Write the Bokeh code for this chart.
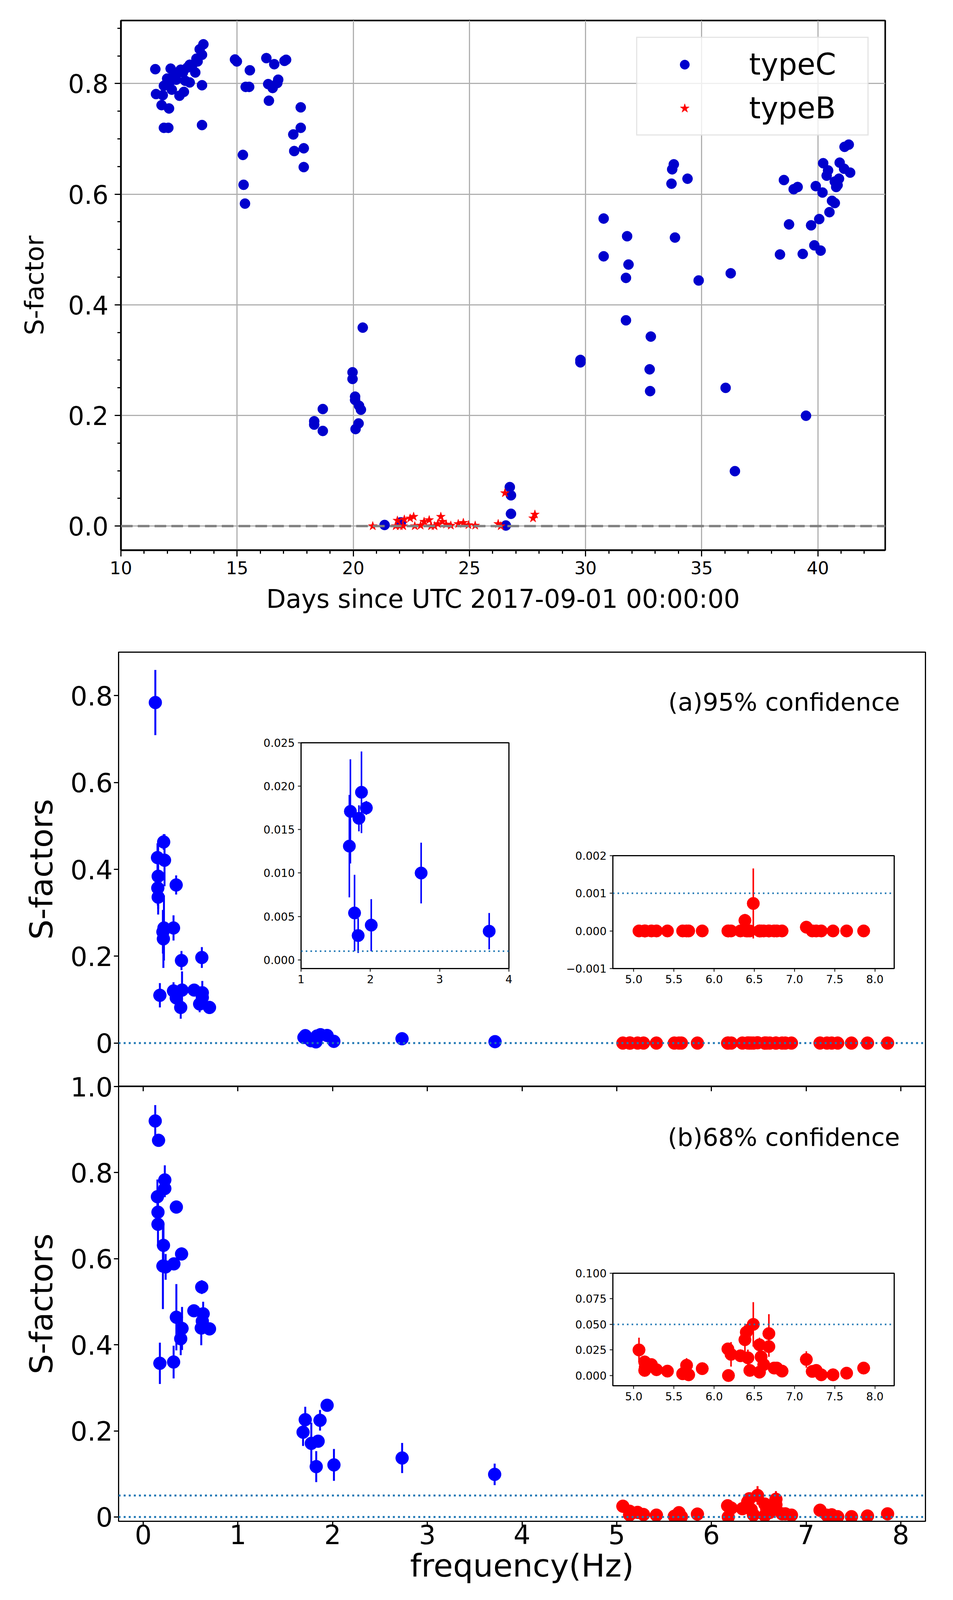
from bokeh.plotting import figure
from bokeh.layouts import column
from bokeh.models import Span, Label, FixedTicker, LinearAxis
from bokeh.embed import file_html
from bokeh.resources import INLINE

FONT = "DejaVu Sans"

# ---- top chart: S-factor versus days ----
days_typeC = [11.48, 12.14, 12.57, 12.96, 13.25, 13.39, 13.55, 13.49, 13.20, 11.99, 12.38, 12.77, 12.96,
              13.49, 11.51, 11.80, 12.19, 12.52, 12.71, 11.75, 12.07, 11.85, 12.04, 13.49, 11.85, 12.10,
              12.28, 12.67, 12.86, 13.06, 13.30,
              14.91, 14.99, 15.55, 15.37, 15.52, 15.25, 15.28, 15.34,
              16.26, 16.60, 17.04, 17.11, 16.77, 16.34, 16.53, 16.73, 16.37, 17.74, 17.74, 17.42, 17.87,
              17.46, 17.87,
              18.32, 18.32, 18.69, 18.69, 19.97, 19.97, 20.08, 20.08, 20.25, 20.33, 20.23, 20.10, 20.41,
              21.35, 22.05, 26.57, 26.74, 26.79, 26.79,
              29.78, 29.78, 31.74, 31.74, 30.78, 30.78, 31.79, 31.85, 33.80, 33.73, 34.39, 33.70, 33.85,
              34.87, 36.25, 32.81, 32.76, 32.78, 36.03, 36.43, 39.49,
              38.37, 38.54, 38.76, 38.96, 39.13, 39.35, 39.71, 39.85, 40.12, 40.06, 39.91, 40.20, 40.23,
              40.44, 40.38, 40.94, 41.13, 41.39, 40.73, 40.91, 40.85, 40.79, 40.61, 40.73, 40.50, 41.15,
              41.33]
sf_typeC = [0.826, 0.827, 0.825, 0.834, 0.845, 0.862, 0.871, 0.852, 0.820, 0.809, 0.807, 0.805, 0.802,
            0.797, 0.781, 0.779, 0.789, 0.778, 0.785, 0.761, 0.755, 0.720, 0.720, 0.725, 0.796, 0.803,
            0.815, 0.820, 0.829, 0.832, 0.840,
            0.8435, 0.840, 0.824, 0.794, 0.794, 0.671, 0.617, 0.583,
            0.846, 0.835, 0.841, 0.843, 0.807, 0.799, 0.792, 0.801, 0.769, 0.757, 0.720, 0.708, 0.683,
            0.678, 0.649,
            0.1895, 0.1834, 0.2116, 0.172, 0.278, 0.266, 0.234, 0.228, 0.2176, 0.2104, 0.1855, 0.1754,
            0.3588,
            0.002, 0.0068, 0.001, 0.0705, 0.0556, 0.0222,
            0.3004, 0.296, 0.372, 0.4487, 0.556, 0.4877, 0.524, 0.4728, 0.654, 0.645, 0.628, 0.619,
            0.5216, 0.444, 0.457, 0.3426, 0.2834, 0.244, 0.2499, 0.0993, 0.1995,
            0.491, 0.6256, 0.5454, 0.609, 0.613, 0.492, 0.5437, 0.5075, 0.498, 0.555, 0.6146, 0.603,
            0.656, 0.643, 0.6335, 0.657, 0.646, 0.639, 0.6228, 0.628, 0.6164, 0.613, 0.588, 0.584,
            0.5675, 0.6856, 0.6896]
days_typeB = [20.84, 21.83, 21.90, 22.00, 22.15, 22.20, 22.45, 22.60, 22.65, 22.90, 23.05, 23.27, 23.35,
              23.50, 23.64, 23.77, 23.84, 24.00, 24.20, 24.52, 24.74, 24.96, 25.25, 26.24, 26.35, 26.53,
              27.74, 27.82]
sf_typeB = [0.0, 0.0, 0.010, 0.0, 0.0, 0.012, 0.014, 0.017, 0.0, 0.001, 0.008, 0.011, 0.0,
            0.0, 0.004, 0.017, 0.008, 0.003, 0.001, 0.004, 0.006, 0.002, 0.001, 0.004, 0.0, 0.0597,
            0.0142, 0.021]
top_xticks = [10, 15, 20, 25, 30, 35, 40]
top_yticks = [0.0, 0.2, 0.4, 0.6, 0.8]
top_ylabels = ["0.0", "0.2", "0.4", "0.6", "0.8"]

# ---- bottom chart: S-factors versus frequency ----
freq_a_blue = [0.128, 0.151, 0.154, 0.158, 0.158, 0.176, 0.208, 0.213, 0.216, 0.219, 0.225, 0.320, 0.320,
               0.348, 0.349, 0.396, 0.404, 0.410, 0.538, 0.596, 0.619, 0.624, 0.624, 0.700,
               1.697, 1.712, 1.772, 1.824, 1.835, 1.872, 1.942, 2.013, 2.733, 3.715]
s_a_blue = [0.784, 0.427, 0.357, 0.384, 0.336, 0.110, 0.256, 0.240, 0.463, 0.265, 0.421, 0.265, 0.120,
            0.364, 0.104, 0.082, 0.190, 0.122, 0.122, 0.090, 0.197, 0.116, 0.105, 0.082,
            0.0131, 0.0171, 0.0054, 0.0028, 0.0163, 0.0193, 0.0175, 0.0040, 0.0100, 0.0033]
err_a_blue = [0.075, 0.033, 0.040, 0.075, 0.040, 0.028, 0.050, 0.067, 0.018, 0.075, 0.060, 0.029, 0.020,
              0.022, 0.012, 0.026, 0.022, 0.043, 0.004, 0.019, 0.024, 0.027, 0.010, 0.004,
              0.0059, 0.0060, 0.0044, 0.0020, 0.0015, 0.0047, 0.0008, 0.0030, 0.0035, 0.0021]
freq_b_blue = [0.127, 0.162, 0.228, 0.228, 0.150, 0.156, 0.156, 0.214, 0.208, 0.237, 0.350, 0.324, 0.405,
               0.618, 0.350, 0.410, 0.396, 0.535, 0.633, 0.624, 0.613, 0.700, 0.176, 0.321,
               1.688, 1.711, 1.775, 1.827, 1.847, 1.867, 1.942, 2.014, 2.734, 3.711]
s_b_blue = [0.920, 0.875, 0.783, 0.763, 0.744, 0.708, 0.680, 0.631, 0.583, 0.581, 0.720, 0.588, 0.611,
            0.534, 0.464, 0.438, 0.414, 0.479, 0.472, 0.455, 0.439, 0.437, 0.357, 0.360,
            0.197, 0.226, 0.171, 0.117, 0.176, 0.2246, 0.2595, 0.121, 0.137, 0.099]
err_b_blue = [0.037, 0.004, 0.034, 0.020, 0.040, 0.020, 0.050, 0.050, 0.100, 0.030, 0.012, 0.010, 0.015,
              0.016, 0.077, 0.050, 0.038, 0.004, 0.028, 0.020, 0.040, 0.004, 0.048, 0.038,
              0.032, 0.030, 0.048, 0.036, 0.004, 0.024, 0.004, 0.037, 0.035, 0.025]
freq_red = [5.065, 5.136, 5.143, 5.220, 5.136, 5.283, 5.419, 5.608, 5.657, 5.683, 5.852, 6.171, 6.178,
            6.210, 6.327, 6.383, 6.400, 6.420, 6.444, 6.487, 6.564, 6.584, 6.564, 6.617, 6.681, 6.681,
            6.746, 6.780, 6.845, 7.147, 7.220, 7.270, 7.333, 7.479, 7.648, 7.860]
s_a_red = [0.0, 0.0, 0.0, 0.0, 0.0, 0.0, 0.0, 0.0, 0.0, 0.0, 0.0, 0.0, 0.0,
           0.0, 0.0, 0.00028, 0.0, 0.0, 0.0, 0.00073, 0.0, 0.0, 0.0, 0.0, 0.0, 0.0,
           0.0, 0.0, 0.0, 0.0001, 0.0, 0.0, 0.0, 0.0, 0.0, 0.0]
err_a_red = [0.0, 0.0, 0.0, 0.0, 0.0, 0.0, 0.0, 0.0, 0.0, 0.0, 0.0, 0.0, 0.0,
             0.0, 0.0, 0.00017, 0.0, 0.0, 0.0, 0.00093, 0.0, 0.0, 0.0, 0.0, 0.0, 0.0,
             0.0, 0.0, 0.0, 0.0, 0.0, 0.0, 0.0, 0.0, 0.0, 0.0]
s_b_red = [0.025, 0.0133, 0.0083, 0.0107, 0.005, 0.0057, 0.0043, 0.0017, 0.010, 0.0007, 0.0067, 0.026, 0.0,
           0.0207, 0.0193, 0.035, 0.0423, 0.0173, 0.005, 0.050, 0.030, 0.0183, 0.0033, 0.0107, 0.041,
           0.0283, 0.0073, 0.0073, 0.0043, 0.0157, 0.004, 0.005, 0.0007, 0.0007, 0.0023, 0.0073]
err_b_red = [0.012, 0.006, 0.003, 0.003, 0.002, 0.002, 0.002, 0.002, 0.007, 0.002, 0.002, 0.005, 0.002,
             0.012, 0.003, 0.014, 0.008, 0.008, 0.002, 0.0217, 0.007, 0.004, 0.002, 0.003, 0.019,
             0.010, 0.002, 0.002, 0.002, 0.008, 0.002, 0.002, 0.001, 0.001, 0.001, 0.002]

ref_a = [0.0]            # dotted reference line, panel (a)
ref_b = [0.0, 0.05]      # dotted reference lines, panel (b)
ref_a_inset = [0.001]
ref_b_inset = [0.05]

freq_ticks = [0, 1, 2, 3, 4, 5, 6, 7, 8]
a_yticks = [0.0, 0.2, 0.4, 0.6, 0.8]
a_ylabels = ["0", "0.2", "0.4", "0.6", "0.8"]
b_yticks = [0.0, 0.2, 0.4, 0.6, 0.8, 1.0]
b_ylabels = ["0", "0.2", "0.4", "0.6", "0.8", "1.0"]
a1_xticks = [1, 2, 3, 4]
a1_yticks = [0.0, 0.005, 0.010, 0.015, 0.020, 0.025]
a1_ylabels = ["0.000", "0.005", "0.010", "0.015", "0.020", "0.025"]
red_xticks = [5.0, 5.5, 6.0, 6.5, 7.0, 7.5, 8.0]
red_xlabels = ["5.0", "5.5", "6.0", "6.5", "7.0", "7.5", "8.0"]
a2_yticks = [-0.001, 0.0, 0.001, 0.002]
a2_ylabels = ["\u22120.001", "0.000", "0.001", "0.002"]
bi_yticks = [0.0, 0.025, 0.05, 0.075, 0.1]
bi_ylabels = ["0.000", "0.025", "0.050", "0.075", "0.100"]

BLUE = "#0000ff"
RED = "#ff0000"
DOT = "#1f77b4"
LB, RB = 303, 55   # same side borders for all plots (the column aligns them)


def set_ticks(axis, ticks, labels=None, minor=None):
    axis.ticker = FixedTicker(ticks=ticks, minor_ticks=minor or [])
    if labels is not None:
        axis.major_label_overrides = {t: s for t, s in zip(ticks, labels)}


def style(p, tick_font, tick_len, line_w, outline_w):
    p.grid.visible = False
    p.outline_line_color = "black"
    p.outline_line_width = outline_w
    p.outline_line_alpha = 1
    p.axis.major_label_text_font = FONT
    p.axis.major_label_text_font_size = tick_font
    p.axis.major_label_text_color = "black"
    p.axis.axis_label_text_font = FONT
    p.axis.axis_label_text_color = "black"
    p.axis.axis_label_text_font_style = "normal"
    p.axis.major_tick_in = 0
    p.axis.major_tick_out = tick_len
    p.axis.major_tick_line_width = line_w
    p.axis.minor_tick_line_color = None
    p.axis.axis_line_width = outline_w


def errorbars(p, x, y, e, color, width):
    lo = [v - d for v, d in zip(y, e)]
    hi = [v + d for v, d in zip(y, e)]
    p.segment(x0=x, y0=lo, x1=x, y1=hi, line_color=color, line_width=width)


# ===================== top figure =====================
top = figure(width=2314, height=1612, x_range=(10, 42.9), y_range=(-0.0436, 0.914),
             output_backend="svg", toolbar_location=None,
             min_border_left=LB, min_border_right=RB, min_border_top=52, min_border_bottom=204,
             margin=(0, 0, 0, 6))
style(top, "65px", 16, 3, 4)
top.grid.visible = True
top.grid.grid_line_color = "#b0b0b0"
top.grid.grid_line_width = 3
set_ticks(top.xaxis[0], top_xticks, minor=list(range(10, 43)))
set_ticks(top.yaxis[0], top_yticks, top_ylabels, minor=[i * 0.05 for i in range(19)])
top.axis.minor_tick_line_color = "black"
top.axis.minor_tick_line_width = 3
top.axis.minor_tick_in = 0
top.axis.minor_tick_out = 9
top.xaxis.major_label_text_font_size = "45px"
top.xaxis.major_label_standoff = 12
top.yaxis.major_label_standoff = 16
top.xaxis.axis_label = "Days since UTC 2017-09-01 00:00:00"
top.yaxis.axis_label = "S-factor"
top.axis.axis_label_text_font_size = "65px"
top.xaxis.axis_label_standoff = 23
top.yaxis.axis_label_standoff = 45

top.scatter(days_typeC, sf_typeC, size=26, color="#0000cd", legend_label="typeC")
top.scatter(days_typeB, sf_typeB, marker="star", size=24, color="red", legend_label="typeB")
top.add_layout(Span(location=0, dimension="width", line_color="gray", line_dash="30 13", line_width=6))

lg = top.legend[0]
lg.location = "top_right"
lg.margin = 42
lg.padding = 23
lg.spacing = 23
lg.glyph_width = 196
lg.glyph_height = 60
lg.label_height = 84
lg.label_width = 280
lg.label_standoff = 67
lg.label_text_font = FONT
lg.label_text_font_size = "76px"
lg.label_text_color = "black"
lg.border_line_color = "#cccccc"
lg.border_line_width = 3
lg.background_fill_alpha = 0.8

# ===================== panel (a) =====================
pa = figure(width=2423, height=1169, x_range=(-0.26, 8.26), y_range=(-0.1, 0.9),
            output_backend="svg", toolbar_location=None,
            min_border_left=LB, min_border_right=RB, min_border_top=57, min_border_bottom=0)
style(pa, "68px", 12, 3, 3)
pa.xaxis.visible = False
set_ticks(pa.yaxis[0], a_yticks, a_ylabels)
pa.yaxis.axis_label = "S-factors"
pa.yaxis.axis_label_text_font_size = "81px"
pa.yaxis.major_label_standoff = 3
pa.yaxis.axis_label_standoff = 24
for r in ref_a:
    pa.add_layout(Span(location=r, dimension="width", line_color=DOT, line_dash="5 8", line_width=5))
errorbars(pa, freq_a_blue, s_a_blue, err_a_blue, BLUE, 5)
pa.scatter(freq_a_blue, s_a_blue, size=33, color=BLUE)
errorbars(pa, freq_red, s_a_red, err_a_red, RED, 5)
pa.scatter(freq_red, s_a_red, size=33, color=RED)
pa.add_layout(Label(x=7.99, y=0.785, text="(a)95% confidence", text_align="right",
                    text_baseline="alphabetic", text_color="black",
                    text_font=FONT, text_font_size="63px"))

# inset (a1): blue points, 1-4 Hz
ia1 = figure(width=890, height=658, x_range=(1, 4), y_range=(-0.001, 0.025),
             output_backend="svg", toolbar_location=None, border_fill_color=None,
             min_border_left=LB, min_border_right=RB, min_border_top=20, min_border_bottom=60,
             margin=(-900, 0, 0, 467))
style(ia1, "28px", 8, 2, 3)
set_ticks(ia1.xaxis[0], a1_xticks)
set_ticks(ia1.yaxis[0], a1_yticks, a1_ylabels)
ia1.axis.major_label_standoff = 8
for r in ref_a_inset:
    ia1.add_layout(Span(location=r, dimension="width", line_color=DOT, line_dash="4 8", line_width=4))
errorbars(ia1, freq_a_blue, s_a_blue, err_a_blue, BLUE, 4)
ia1.scatter(freq_a_blue, s_a_blue, size=32, color=BLUE)

# inset (a2): red points, 5-8 Hz
ia2 = figure(width=1078, height=369, x_range=(4.74, 8.24), y_range=(-0.001, 0.002),
             output_backend="svg", toolbar_location=None, border_fill_color=None,
             min_border_left=LB, min_border_right=RB, min_border_top=20, min_border_bottom=60,
             margin=(-369, 0, 0, 1265))
style(ia2, "28px", 8, 2, 3)
set_ticks(ia2.xaxis[0], red_xticks, red_xlabels)
set_ticks(ia2.yaxis[0], a2_yticks, a2_ylabels)
ia2.axis.major_label_standoff = 8
for r in ref_a_inset:
    ia2.add_layout(Span(location=r, dimension="width", line_color=DOT, line_dash="4 8", line_width=4))
errorbars(ia2, freq_red, s_a_red, err_a_red, RED, 4)
ia2.scatter(freq_red, s_a_red, size=32, color=RED)

# ===================== panel (b) =====================
pb = figure(width=2423, height=1361, x_range=(-0.26, 8.26), y_range=(-0.01, 1.0),
            output_backend="svg", toolbar_location=None, border_fill_color=None,
            min_border_left=LB, min_border_right=RB, min_border_top=60, min_border_bottom=188,
            margin=(182, 0, 0, 0))
style(pb, "68px", 12, 3, 3)
set_ticks(pb.xaxis[0], freq_ticks)
set_ticks(pb.yaxis[0], b_yticks, b_ylabels)
pb.xaxis.axis_label = "frequency(Hz)"
pb.yaxis.axis_label = "S-factors"
pb.axis.axis_label_text_font_size = "81px"
pb.yaxis.major_label_standoff = 3
pb.yaxis.axis_label_standoff = 24
pb.xaxis.major_label_standoff = -4
pb.xaxis.axis_label_standoff = 5
upper = LinearAxis(ticker=FixedTicker(ticks=freq_ticks), major_tick_in=12, major_tick_out=0,
                   major_tick_line_width=3, minor_tick_line_color=None, axis_line_color=None,
                   major_label_text_font_size="1px", major_label_text_alpha=0, major_label_standoff=0)
pb.add_layout(upper, "above")
for r in ref_b:
    pb.add_layout(Span(location=r, dimension="width", line_color=DOT, line_dash="5 8", line_width=5))
errorbars(pb, freq_b_blue, s_b_blue, err_b_blue, BLUE, 5)
pb.scatter(freq_b_blue, s_b_blue, size=33, color=BLUE)
errorbars(pb, freq_red, s_b_red, err_b_red, RED, 5)
pb.scatter(freq_red, s_b_red, size=33, color=RED)
pb.add_layout(Label(x=7.99, y=0.882, text="(b)68% confidence", text_align="right",
                    text_baseline="alphabetic", text_color="black",
                    text_font=FONT, text_font_size="63px"))

# inset (b): red points, 5-8 Hz
ib = figure(width=1078, height=368, x_range=(4.74, 8.24), y_range=(-0.01, 0.1),
            output_backend="svg", toolbar_location=None, border_fill_color=None,
            min_border_left=LB, min_border_right=RB, min_border_top=20, min_border_bottom=60,
            margin=(-843, 0, 475, 1265))
style(ib, "28px", 8, 2, 3)
set_ticks(ib.xaxis[0], red_xticks, red_xlabels)
set_ticks(ib.yaxis[0], bi_yticks, bi_ylabels)
ib.axis.major_label_standoff = 8
for r in ref_b_inset:
    ib.add_layout(Span(location=r, dimension="width", line_color=DOT, line_dash="4 8", line_width=4))
errorbars(ib, freq_red, s_b_red, err_b_red, RED, 4)
ib.scatter(freq_red, s_b_red, size=32, color=RED)

layout = column(top, pa, ia1, ia2, pb, ib)
open("out.html", "w").write(file_html(layout, INLINE))
